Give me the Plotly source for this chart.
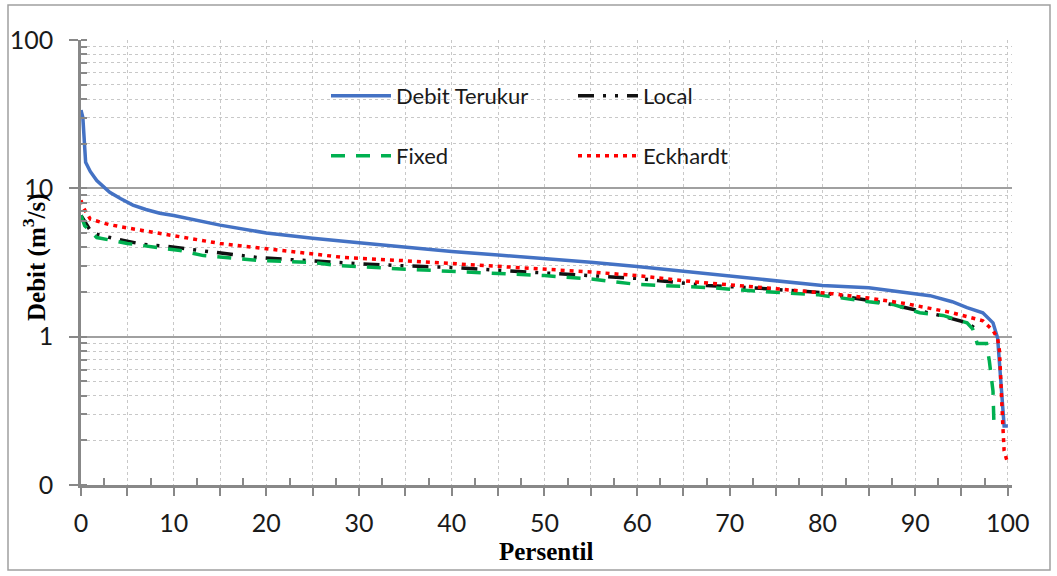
import plotly.graph_objects as go

# Flow-duration curves: percentile (%) vs discharge (m3/s)
terukur_x = [0, 0.2, 0.5, 1, 1.7, 3.1, 4.3, 5.6, 7, 8.5, 10, 12, 15, 20, 25, 30, 35, 40, 45,
             50, 55, 60, 65, 70, 75, 80, 85, 88, 91.6, 94, 95.6, 97.3, 98.4, 98.9, 99.3, 99.6, 100]
terukur_y = [33.7, 30, 15, 13, 11.3, 9.4, 8.5, 7.7, 7.2, 6.8, 6.55, 6.2, 5.65, 5.0, 4.6, 4.3, 4.0,
             3.75, 3.55, 3.37, 3.17, 2.97, 2.75, 2.55, 2.38, 2.21, 2.14, 2.02, 1.89, 1.72, 1.57,
             1.45, 1.24, 0.98, 0.48, 0.25, 0.25]

local_x = [0, 1, 1.7, 3.5, 6.7, 9.3, 12.8, 15.7, 19, 22.5, 26.9, 30, 35, 40, 45, 50, 55, 60,
           67.5, 72.2, 80, 87, 92.7, 95.6, 96.8]
local_y = [6.57, 5.2, 4.9, 4.6, 4.19, 4.06, 3.81, 3.64, 3.42, 3.31, 3.16, 3.1, 3.0, 2.93, 2.8,
           2.7, 2.58, 2.47, 2.21, 2.14, 1.98, 1.67, 1.39, 1.24, 1.1]

fixed_x = [0, 0.4, 1.7, 5, 8.2, 10.7, 13.2, 16.4, 19.3, 25, 27.6, 35, 40, 45, 50, 55, 60, 67.9,
           73.6, 79.4, 82.2, 85, 87.6, 90.5, 93, 95.6, 96.2, 96.7, 97.7, 98, 98.4, 98.5]
fixed_y = [6.57, 5.6, 4.66, 4.25, 3.99, 3.81, 3.52, 3.37, 3.26, 3.16, 3.02, 2.85, 2.75, 2.65,
           2.58, 2.45, 2.25, 2.14, 2.01, 1.92, 1.81, 1.72, 1.65, 1.45, 1.39, 1.24, 1.13, 0.9,
           0.9, 0.69, 0.43, 0.26]

eckhardt_x = [0, 0.2, 1, 3, 5.3, 8.5, 10, 15, 20.7, 28.3, 35, 40, 45, 50, 55, 60, 66.8, 73.6,
              81, 85, 89, 94, 97.3, 98.4, 98.9, 99.1, 99.3, 99.45, 99.6, 100]
eckhardt_y = [8.3, 7.5, 6.2, 5.7, 5.37, 4.97, 4.75, 4.25, 3.87, 3.42, 3.25, 3.11, 3.0, 2.88,
              2.73, 2.58, 2.32, 2.14, 1.95, 1.82, 1.67, 1.45, 1.28, 1.1, 0.97, 0.8, 0.48, 0.26,
              0.17, 0.139]

y_tickvals = [0.1, 1, 10, 100]
y_ticktext = ["0", "1", "10", "100"]
x_tickvals = list(range(0, 101, 5))
x_ticktext = [str(v) if v % 10 == 0 else "" for v in x_tickvals]
x_minor = [v + 2.5 for v in range(0, 100, 5)]

TICK_FONT = dict(family="Lato", size=25, color="#1a1a1a")
LEG_FONT = dict(family="Lato", size=22, color="#1a1a1a")

fig = go.Figure()
fig.add_trace(go.Scatter(x=terukur_x, y=terukur_y, mode="lines", name="Debit Terukur",
                         line=dict(color="#4472C4", width=3.5), legend="legend"))
fig.add_trace(go.Scatter(x=local_x, y=local_y, mode="lines", name="Local",
                         line=dict(color="#111111", width=3.5,
                                   dash="16px,9px,3px,9px,3px,9px"), legend="legend"))
fig.add_trace(go.Scatter(x=fixed_x, y=fixed_y, mode="lines", name="Fixed",
                         line=dict(color="#00B050", width=3.5, dash="14px,11px"),
                         legend="legend2"))
fig.add_trace(go.Scatter(x=eckhardt_x, y=eckhardt_y, mode="lines", name="Eckhardt",
                         line=dict(color="#FF0000", width=3.5, dash="4px,5px"),
                         legend="legend2"))

L, R, T, B = 81, 45, 40, 91
W, H = 1057, 576
pw, ph = W - L - R, H - T - B

def px(xp):
    return (xp - L) / pw

def py(yp):
    return (H - B - yp) / ph

fig.update_layout(
    width=W, height=H,
    margin=dict(l=L, r=R, t=T, b=B, autoexpand=False),
    paper_bgcolor="white", plot_bgcolor="white",
    showlegend=True,
    legend=dict(orientation="h", x=px(326), y=py(96), xanchor="left", yanchor="middle",
                bgcolor="rgba(0,0,0,0)", font=LEG_FONT, entrywidth=172,
                entrywidthmode="pixels", itemwidth=60, tracegroupgap=0),
    legend2=dict(orientation="h", x=px(326), y=py(156), xanchor="left", yanchor="middle",
                 bgcolor="rgba(0,0,0,0)", font=LEG_FONT, entrywidth=172,
                 entrywidthmode="pixels", itemwidth=60, tracegroupgap=0),
    xaxis=dict(
        range=[0, 100.45], tickvals=x_tickvals, ticktext=x_ticktext,
        ticks="outside", ticklen=8, tickwidth=1.5, tickcolor="#888888",
        showline=True, linecolor="#888888", linewidth=2.5,
        showgrid=True, gridcolor="#c8c8c8", griddash="dot", gridwidth=1,
        zeroline=False, tickfont=TICK_FONT, ticklabelstandoff=6,
        minor=dict(tickvals=x_minor, ticks="inside", ticklen=7, tickwidth=1.5,
                   tickcolor="#888888", showgrid=False),
    ),
    yaxis=dict(
        type="log", range=[-1, 2.0], tickvals=y_tickvals, ticktext=y_ticktext,
        ticks="outside", ticklen=9, tickwidth=1.5, tickcolor="#888888",
        showline=True, linecolor="#888888", linewidth=2.5,
        showgrid=True, gridcolor="#a0a0a0", gridwidth=1.5,
        zeroline=False, tickfont=TICK_FONT, ticklabelstandoff=11,
        minor=dict(dtick="D1", ticks="inside", ticklen=6, tickwidth=1.5,
                   tickcolor="#888888", showgrid=True, gridcolor="#c8c8c8",
                   griddash="dot", gridwidth=1),
    ),
    annotations=[
        dict(text="<b>Persentil</b>", xref="paper", yref="paper", x=px(546), y=py(551),
             xanchor="center", yanchor="middle", showarrow=False,
             font=dict(family="Liberation Serif", size=25, color="black")),
        dict(text="<b>Debit (m<sup>3</sup>/s)</b>", xref="paper", yref="paper",
             x=px(34), y=py(258), xanchor="center", yanchor="middle", textangle=-90,
             showarrow=False, font=dict(family="Liberation Serif", size=25, color="black")),
    ],
    shapes=[
        dict(type="rect", xref="paper", yref="paper", x0=px(8), x1=px(1050),
             y0=py(570), y1=py(5), line=dict(color="#a0a0a0", width=1.5), layer="below"),
    ],
)

fig.write_html("out.html")
